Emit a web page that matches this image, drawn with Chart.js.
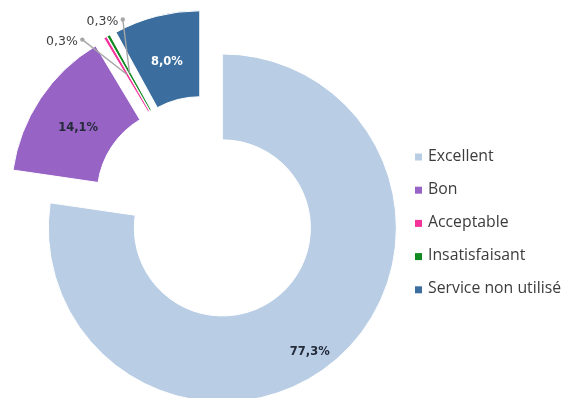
<!DOCTYPE html>
<html>
<head>
<meta charset="utf-8">
<script src="https://cdn.jsdelivr.net/npm/chart.js@4/dist/chart.umd.min.js"></script>
<style>
  html, body { margin: 0; padding: 0; background: #fff; }
  #wrap { width: 571px; height: 398px; }
</style>
</head>
<body>
<div id="wrap"><canvas id="chart" width="571" height="398"></canvas></div>
<script>
"use strict";

// satisfaction survey, share of answers in %
var categories = ['Excellent', 'Bon', 'Acceptable', 'Insatisfaisant', 'Service non utilisé'];
var shares = [77.3, 14.1, 0.3, 0.3, 8.0];

var colors = ['#b9cde5', '#9764c6', '#f3329a', '#118a22', '#3b6e9e'];

// every slice pulled out from the centre by the same distance
var EXPLODE = 25;

// where each value label sits: fraction of the outer radius, extra turn in degrees
var labelSpots = [
    { r: 0.874, turn: 5.8, color: '#232a38', bold: true },
    { r: 0.728, turn: -1.4, color: '#232a38', bold: true },
    { r: 1.126, turn: -11.7, color: '#404040', leader: true },
    { r: 1.085, turn: 0.4, color: '#404040', leader: true },
    { r: 0.73, turn: -0.6, color: '#ffffff', bold: true }
];

function formatShare(v) {
    return v.toFixed(1).replace('.', ',') + '%';
}

var explodePlugin = {
    id: 'explode',
    afterDatasetUpdate: function(chart, args) {
        args.meta.data.forEach(function(arc) {
            var mid = (arc.startAngle + arc.endAngle) / 2;
            arc.x += Math.cos(mid) * EXPLODE;
            arc.y += Math.sin(mid) * EXPLODE;
        });
    }
};

var valueLabels = {
    id: 'valueLabels',
    afterDatasetsDraw: function(chart) {
        var ctx = chart.ctx;
        var meta = chart.getDatasetMeta(0);
        ctx.save();
        ctx.textAlign = 'center';
        ctx.textBaseline = 'middle';
        meta.data.forEach(function(arc, i) {
            var spot = labelSpots[i];
            var text = formatShare(shares[i]);
            var mid = (arc.startAngle + arc.endAngle) / 2;
            var a = mid + spot.turn * Math.PI / 180;
            var tx = arc.x + Math.cos(a) * arc.outerRadius * spot.r;
            var ty = arc.y + Math.sin(a) * arc.outerRadius * spot.r;
            ctx.font = (spot.bold ? 'bold 11.5px' : '12.5px') + ' "DejaVu Sans", sans-serif';
            if (spot.leader) {
                var w = ctx.measureText(text).width;
                var dx = tx + w / 2 + 4.5;
                var dy = ty - 2.5;
                var ring = (arc.innerRadius + arc.outerRadius) / 2;
                var ex = arc.x + Math.cos(mid) * ring;
                var ey = arc.y + Math.sin(mid) * ring;
                ctx.strokeStyle = '#a6a6a6';
                ctx.fillStyle = '#a6a6a6';
                ctx.lineWidth = 1.4;
                ctx.beginPath();
                ctx.moveTo(dx, dy);
                ctx.lineTo(ex, ey);
                ctx.stroke();
                ctx.beginPath();
                ctx.arc(dx, dy, 2.2, 0, Math.PI * 2);
                ctx.fill();
            }
            ctx.fillStyle = spot.color;
            ctx.fillText(text, tx, ty);
        });
        ctx.restore();
    }
};

var sideLegend = {
    id: 'sideLegend',
    afterDraw: function(chart) {
        var ctx = chart.ctx;
        var bg = chart.data.datasets[0].backgroundColor;
        ctx.save();
        ctx.font = '15.8px "Open Sans", sans-serif';
        ctx.textBaseline = 'middle';
        ctx.textAlign = 'left';
        chart.data.labels.forEach(function(label, i) {
            var y = 157 + i * 33.2;
            ctx.fillStyle = bg[i];
            ctx.fillRect(415, y - 3.5, 7, 7);
            ctx.fillStyle = '#3c3c3c';
            ctx.fillText(label, 428, y - 1);
        });
        ctx.restore();
    }
};

var chart = new Chart(document.getElementById('chart'), {
    type: 'doughnut',
    data: {
        labels: categories,
        datasets: [{
            data: shares,
            backgroundColor: colors,
            borderColor: '#ffffff',
            borderWidth: 1,
            hoverOffset: 0,
            clip: false
        }]
    },
    options: {
        responsive: false,
        animation: false,
        events: [],
        radius: 174,
        cutout: '50.6%',
        layout: { padding: { left: 0, right: 159, top: 20, bottom: 0 } },
        plugins: {
            legend: { display: false },
            tooltip: { enabled: false }
        }
    },
    plugins: [explodePlugin, valueLabels, sideLegend]
});
</script>
</body>
</html>
